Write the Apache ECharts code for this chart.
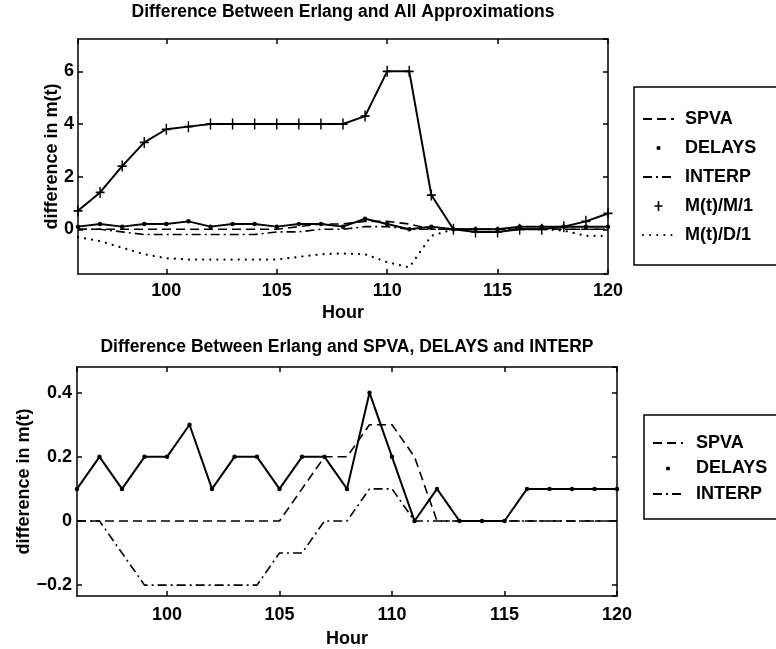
<!DOCTYPE html>
<html><head><meta charset="utf-8">
<script src="https://cdn.jsdelivr.net/npm/echarts@6/dist/echarts.min.js"></script>
<style>html,body{margin:0;padding:0;background:#fff}#c{width:776px;height:649px}</style>
</head><body><div id="c"></div>
<script>
// ---- data ----
const hours  = [96,97,98,99,100,101,102,103,104,105,106,107,108,109,110,111,112,113,114,115,116,117,118,119,120];
const spva   = [0,0,0,0,0,0,0,0,0,0,0.1,0.2,0.2,0.3,0.3,0.2,0,0,0,0,0,0,0,0,0];
const delays = [0.1,0.2,0.1,0.2,0.2,0.3,0.1,0.2,0.2,0.1,0.2,0.2,0.1,0.4,0.2,0,0.1,0,0,0,0.1,0.1,0.1,0.1,0.1];
const interp = [0,0,-0.1,-0.2,-0.2,-0.2,-0.2,-0.2,-0.2,-0.1,-0.1,0,0,0.1,0.1,0,0,0,0,0,0,0,0,0,0];
const mm1    = [0.7,1.4,2.4,3.3,3.8,3.9,4.0,4.0,4.0,4.0,4.0,4.0,4.0,4.3,6.0,6.0,1.3,0.0,-0.1,-0.1,0.0,0.0,0.1,0.3,0.6];
const md1    = [-0.3,-0.45,-0.7,-0.95,-1.1,-1.15,-1.15,-1.15,-1.15,-1.15,-1.05,-0.95,-0.92,-0.95,-1.25,-1.45,-0.25,0,0,0,0,0,-0.05,-0.25,-0.25];
const topTitle = 'Difference Between Erlang and All Approximations';
const bottomTitle = 'Difference Between Erlang and SPVA, DELAYS and INTERP';
const yName = 'difference in m(t)';
const xName = 'Hour';
const namesTop = ['SPVA','DELAYS','INTERP','M(t)/M/1','M(t)/D/1'];
const namesBottom = ['SPVA','DELAYS','INTERP'];

// ---- styling ----
const FONT = "'Liberation Sans', Arial, Helvetica, sans-serif";
const K = '#000';
const pts = arr => hours.map((h, i) => [h, arr[i]]);
const dashSPVA = [9, 5];
const dashINTERP = [9, 4, 2, 4];
const dashMD1 = [0.1, 7];
const plusPath = 'path://M0,4.2H10V5.8H0Z M4.2,0H5.8V10H4.2Z';

function axisBase(extra) {
  return Object.assign({
    type: 'value',
    nameMoveOverlap: false,
    axisLine: { show: true, onZero: false, lineStyle: { color: K, width: 1.5 } },
    axisTick: { show: true, inside: true, length: 5, lineStyle: { color: K, width: 1.5 } },
    splitLine: { show: false },
    axisLabel: { color: K, fontFamily: FONT, fontWeight: 'bold', fontSize: 18 },
    nameTextStyle: { color: K, fontFamily: FONT, fontWeight: 'bold', fontSize: 18 }
  }, extra);
}
const fmtY = v => {
  const r = Math.round(v * 100) / 100;
  return r < 0 ? '\u2212' + Math.abs(r) : String(r);
};

function seriesSet(xi, yi, withMM) {
  const s = [
    { name: 'SPVA', type: 'line', xAxisIndex: xi, yAxisIndex: yi, data: pts(spva), symbol: 'none',
      lineStyle: { color: K, width: 1.6, type: dashSPVA }, itemStyle: { color: K } },
    { name: 'DELAYS', type: 'line', xAxisIndex: xi, yAxisIndex: yi, data: pts(delays), symbol: 'circle', symbolSize: 4.5,
      lineStyle: { color: K, width: 2 }, itemStyle: { color: K } },
    { name: 'INTERP', type: 'line', xAxisIndex: xi, yAxisIndex: yi, data: pts(interp), symbol: 'none',
      lineStyle: { color: K, width: 1.6, type: dashINTERP }, itemStyle: { color: K } }
  ];
  if (withMM) {
    s.push({ name: 'M(t)/M/1', type: 'line', xAxisIndex: xi, yAxisIndex: yi, data: pts(mm1), symbol: plusPath, symbolSize: [9, 11],
      lineStyle: { color: K, width: 2 }, itemStyle: { color: K } });
    s.push({ name: 'M(t)/D/1', type: 'line', xAxisIndex: xi, yAxisIndex: yi, data: pts(md1), symbol: 'none',
      lineStyle: { color: K, width: 2.2, type: dashMD1, cap: 'round' }, itemStyle: { color: K } });
  }
  s.forEach(o => { o.animation = false; o.emphasis = { disabled: true }; });
  return s;
}

function legendData(names, w, h) {
  const cx = w / 2, cy = h / 2;
  const anchors = `M0,0h0.05v0.05h-0.05Z M${w-0.05},${h-0.05}h0.05v0.05h-0.05Z `;
  return names.map(n => {
    if (n === 'DELAYS') {
      return { name: n, icon: 'path://' + anchors + `M${cx-1.8},${cy-1.8}h3.6v3.6h-3.6Z`, itemStyle: { color: K, opacity: 1, borderWidth: 0 } };
    }
    if (n === 'M(t)/M/1') {
      return { name: n, icon: 'path://' + anchors + `M${cx-4},${cy-0.8}h8v1.6h-8Z M${cx-0.8},${cy-5}h1.6v10h-1.6Z`, itemStyle: { color: K, opacity: 1, borderWidth: 0 } };
    }
    return { name: n, itemStyle: { opacity: 0 } };
  });
}

const legendText = { color: K, fontFamily: FONT, fontWeight: 'bold', fontSize: 18, lineHeight: 16 };

const option = {
  animation: false,
  backgroundColor: '#fff',
  title: [
    { text: topTitle, left: 343, top: 3, textAlign: 'center', padding: 0,
      textStyle: { color: K, fontFamily: FONT, fontWeight: 'bold', fontSize: 17.5 } },
    { text: bottomTitle, left: 347, top: 338, textAlign: 'center', padding: 0,
      textStyle: { color: K, fontFamily: FONT, fontWeight: 'bold', fontSize: 17.5 } }
  ],
  grid: [
    { left: 78, top: 39, width: 530, height: 235 },
    { left: 77, top: 367, width: 540, height: 230 }
  ],
  xAxis: [
    axisBase({ gridIndex: 0, position: 'bottom', min: 96, max: 120, minInterval: 5, maxInterval: 5,
      name: xName, nameLocation: 'middle', nameGap: 30,
      axisLabel: { color: K, fontFamily: FONT, fontWeight: 'bold', fontSize: 18, margin: 8, showMinLabel: false } }),
    axisBase({ gridIndex: 0, position: 'top', min: 96, max: 120, minInterval: 5, maxInterval: 5, axisLabel: { show: false } }),
    axisBase({ gridIndex: 1, position: 'bottom', min: 96, max: 120, minInterval: 5, maxInterval: 5,
      name: xName, nameLocation: 'middle', nameGap: 34,
      axisLabel: { color: K, fontFamily: FONT, fontWeight: 'bold', fontSize: 18, margin: 10, showMinLabel: false } }),
    axisBase({ gridIndex: 1, position: 'top', min: 96, max: 120, minInterval: 5, maxInterval: 5, axisLabel: { show: false } })
  ],
  yAxis: [
    axisBase({ gridIndex: 0, position: 'left', min: -1.7, max: 7.23, minInterval: 2, maxInterval: 2,
      name: yName, nameLocation: 'middle', nameGap: 17,
      axisLabel: { color: K, fontFamily: FONT, fontWeight: 'bold', fontSize: 18, margin: 4, showMinLabel: false, showMaxLabel: false, formatter: fmtY } }),
    axisBase({ gridIndex: 0, position: 'right', min: -1.7, max: 7.23, minInterval: 2, maxInterval: 2, axisLabel: { show: false } }),
    axisBase({ gridIndex: 1, position: 'left', min: -0.234, max: 0.48, minInterval: 0.2, maxInterval: 0.2,
      name: yName, nameLocation: 'middle', nameGap: 44,
      axisLabel: { color: K, fontFamily: FONT, fontWeight: 'bold', fontSize: 18, margin: 5, showMinLabel: false, showMaxLabel: false, formatter: fmtY } }),
    axisBase({ gridIndex: 1, position: 'right', min: -0.234, max: 0.48, minInterval: 0.2, maxInterval: 0.2, axisLabel: { show: false } })
  ],
  legend: [
    { orient: 'vertical', left: 634, top: 87, padding: [23, 90, 21, 8], itemWidth: 31, itemHeight: 16, itemGap: 11,
      borderColor: K, borderWidth: 1.5, backgroundColor: '#fff', selectedMode: false,
      textStyle: Object.assign({ padding: [0, 0, 0, 6] }, legendText),
      data: legendData(namesTop, 31, 16) },
    { orient: 'vertical', left: 644, top: 415, padding: [19, 90, 16, 8], itemWidth: 30, itemHeight: 16, itemGap: 7.5,
      borderColor: K, borderWidth: 1.5, backgroundColor: '#fff', selectedMode: false,
      textStyle: Object.assign({ padding: [0, 0, 0, 8] }, legendText),
      data: legendData(namesBottom, 30, 16) }
  ],
  series: seriesSet(0, 0, true).concat(seriesSet(2, 2, false))
};

const chart = echarts.init(document.getElementById('c'), null, { renderer: 'canvas' });
chart.setOption(option);
</script>
</body></html>
